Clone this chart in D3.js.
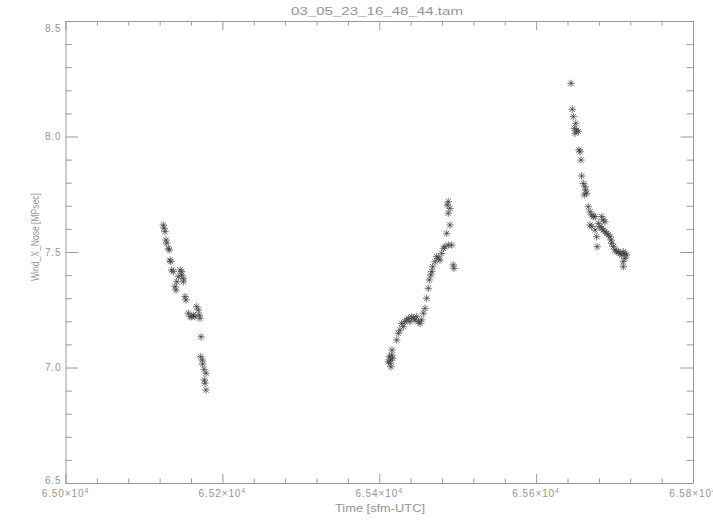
<!DOCTYPE html>
<html>
<head>
<meta charset="utf-8">
<script src="https://cdn.jsdelivr.net/npm/d3@7"></script>
<style>
  html,body{margin:0;padding:0;background:#fff;}
  svg{display:block;}
  text{font-family:"Liberation Sans","DejaVu Sans",sans-serif;fill:#959595;}
</style>
</head>
<body>
<svg id="chart" width="713" height="525"></svg>
<script>
// ---- data ----
const chartTitle = "03_05_23_16_48_44.tam";
const xTitle = "Time [sfm-UTC]";
const yTitle = "Wind_X_Nose [MPsec]";

const xMajorTicks = [65000, 65200, 65400, 65600, 65800];
const xTickMantissa = ["6.50", "6.52", "6.54", "6.56", "6.58"];
const xTickExponent = "4";
const yMajorTicks = [6.5, 7.0, 7.5, 8.0, 8.5];
const yTickLabels = ["6.5", "7.0", "7.5", "8.0", "8.5"];
const xMinorTicks = [65040,65080,65120,65160,65240,65280,65320,65360,65440,65480,65520,65560,65640,65680,65720,65760];
const yMinorTicks = [6.6,6.7,6.8,6.9,7.1,7.2,7.3,7.4,7.6,7.7,7.8,7.9,8.1,8.2,8.3,8.4];

// segment 1
const time1 = [65124.7,65125.6,65126.9,65128.1,65129.0,65131.1,65132.3,65133.2,65134.1,65135.4,
  65137.4,65146.0,65148.1,65148.1,65150.2,65143.8,65141.8,65139.6,65140.9,65150.2,
  65152.4,65153.6,65156.6,65158.7,65160.9,65162.9,65165.1,65167.3,65169.3,65170.6,
  65171.5,65172.8,65172.4,65174.4,65174.9,65176.6,65179.1,65177.0,65177.8,65179.1];
const wind1 = [7.617,7.603,7.588,7.552,7.538,7.516,7.509,7.465,7.458,7.422,
  7.415,7.422,7.415,7.400,7.386,7.393,7.371,7.350,7.335,7.371,
  7.307,7.292,7.235,7.220,7.220,7.227,7.220,7.263,7.249,7.227,
  7.213,7.133,7.047,7.032,7.015,6.992,6.975,6.946,6.932,6.903];

// segment 2
const time2 = [65412.8,65414.6,65413.7,65415.9,65411.5,65415.0,65417.2,65416.3,65422.2,65424.3,
  65426.4,65428.6,65430.7,65432.8,65435.0,65437.0,65439.2,65441.4,65443.4,65445.6,
  65447.7,65449.8,65452.0,65454.1,65456.2,65458.3,65460.5,65462.5,65463.8,65465.6,
  65466.9,65468.1,65471.1,65473.2,65475.3,65477.5,65479.6,65481.7,65483.8,65488.0,
  65492.4,65494.4,65495.3,65486.0,65490.2,65488.0,65490.2,65486.7,65488.0];
const wind2 = [7.047,7.032,7.018,7.054,7.025,7.003,7.040,7.076,7.119,7.148,
  7.162,7.191,7.177,7.198,7.206,7.213,7.198,7.220,7.213,7.206,
  7.220,7.198,7.191,7.206,7.235,7.256,7.300,7.343,7.379,7.400,
  7.415,7.436,7.458,7.480,7.473,7.465,7.494,7.516,7.523,7.530,
  7.530,7.444,7.429,7.581,7.617,7.668,7.689,7.703,7.718];

// segment 3
const time3 = [65644.5,65646.1,65647.4,65650.5,65648.7,65651.7,65653.8,65649.6,65654.7,65656.0,
  65657.2,65658.1,65660.2,65662.3,65663.2,65661.4,65664.5,65666.5,65668.7,65670.9,
  65672.9,65675.1,65668.7,65670.9,65675.1,65677.2,65677.8,65683.6,65685.6,65687.8,
  65679.3,65681.4,65683.6,65685.6,65687.8,65690.0,65692.0,65694.2,65695.5,65696.4,
  65698.4,65700.6,65702.7,65704.8,65706.9,65709.1,65711.1,65713.3,65715.5,65713.3,
  65711.1,65711.1];
const wind3 = [8.230,8.118,8.086,8.057,8.035,8.028,8.021,8.014,7.942,7.934,
  7.898,7.829,7.797,7.783,7.768,7.747,7.754,7.696,7.674,7.660,
  7.653,7.653,7.617,7.610,7.595,7.566,7.523,7.653,7.639,7.631,
  7.624,7.610,7.603,7.595,7.588,7.581,7.574,7.566,7.552,7.538,
  7.523,7.509,7.501,7.501,7.494,7.487,7.501,7.494,7.487,7.473,
  7.458,7.436];

// ---- layout ----
const plot = {left: 65.5, right: 693, top: 21, bottom: 483};
const axisColor = "#9a9a9a";

const svg = d3.select("#chart");
const x = d3.scaleLinear().domain([65000, 65800]).range([plot.left, plot.right]);
const y = d3.scaleLinear().domain([6.5, 8.5]).range([plot.bottom, plot.top]);

function styleAxis(g) {
  g.selectAll("path.domain").attr("stroke", axisColor).attr("stroke-width", 1);
  g.selectAll(".tick line").attr("stroke", axisColor).attr("stroke-width", 1);
}
function addAxis(axisFn, scale, ticks, size, transform, keepDomain) {
  const g = svg.append("g").attr("transform", transform)
    .call(axisFn(scale).tickValues(ticks).tickSizeInner(-size).tickSizeOuter(0).tickFormat(""));
  if (!keepDomain) g.select("path.domain").remove();
  styleAxis(g);
}
addAxis(d3.axisBottom, x, xMajorTicks, 9, `translate(0,${plot.bottom})`, true);
addAxis(d3.axisBottom, x, xMinorTicks, 4.5, `translate(0,${plot.bottom})`, false);
addAxis(d3.axisTop, x, xMajorTicks, 9, `translate(0,${plot.top})`, true);
addAxis(d3.axisTop, x, xMinorTicks, 4.5, `translate(0,${plot.top})`, false);
addAxis(d3.axisLeft, y, yMajorTicks, 12.5, `translate(${plot.left},0)`, true);
addAxis(d3.axisLeft, y, yMinorTicks, 6.3, `translate(${plot.left},0)`, false);
addAxis(d3.axisRight, y, yMajorTicks, 12.5, `translate(${plot.right},0)`, true);
addAxis(d3.axisRight, y, yMinorTicks, 6.3, `translate(${plot.right},0)`, false);

// x tick labels
xMajorTicks.forEach((v, i) => {
  const t = svg.append("text")
    .attr("x", x(v)).attr("y", plot.bottom + 14)
    .attr("text-anchor", "middle")
    .style("font-size", "10px").style("letter-spacing", "0.9px");
  t.append("tspan").text(xTickMantissa[i] + "\u00d710");
  t.append("tspan").attr("dy", -4).style("font-size", "7px").text(xTickExponent);
});

// y tick labels
yMajorTicks.forEach((v, i) => {
  const py = Math.max(plot.top + 7, Math.min(plot.bottom - 3, y(v)));
  svg.append("text")
    .attr("x", plot.left - 4).attr("y", py + 3.5)
    .attr("text-anchor", "end")
    .style("font-size", "10px").style("letter-spacing", "0.9px")
    .text(yTickLabels[i]);
});

// titles
svg.append("text")
  .attr("x", 377).attr("y", 15)
  .attr("text-anchor", "middle")
  .attr("textLength", 172).attr("lengthAdjust", "spacingAndGlyphs")
  .style("font-size", "11px")
  .text(chartTitle);

svg.append("text")
  .attr("x", 380).attr("y", 512)
  .attr("text-anchor", "middle")
  .attr("textLength", 90).attr("lengthAdjust", "spacingAndGlyphs")
  .style("font-size", "10px")
  .text(xTitle);

svg.append("text")
  .attr("transform", "translate(38.5,237) rotate(-90)")
  .attr("text-anchor", "middle")
  .attr("textLength", 88).attr("lengthAdjust", "spacingAndGlyphs")
  .style("font-size", "10px")
  .text(yTitle);

// ---- data markers (asterisks) ----
const star = "M-3.7,0H3.7M0,-3.7V3.7M-2.7,-2.7L2.7,2.7M-2.7,2.7L2.7,-2.7";
const segments = [[time1, wind1], [time2, wind2], [time3, wind3]];
const gData = svg.append("g");
segments.forEach(([ts, ws]) => {
  gData.selectAll(null)
    .data(ts.map((t, i) => [t, ws[i]]))
    .enter().append("path")
    .attr("d", star)
    .attr("transform", d => `translate(${x(d[0])},${y(d[1])})`)
    .attr("fill", "none")
    .attr("stroke", "#3a3a3a")
    .attr("stroke-width", 0.7);
});
</script>
</body>
</html>
